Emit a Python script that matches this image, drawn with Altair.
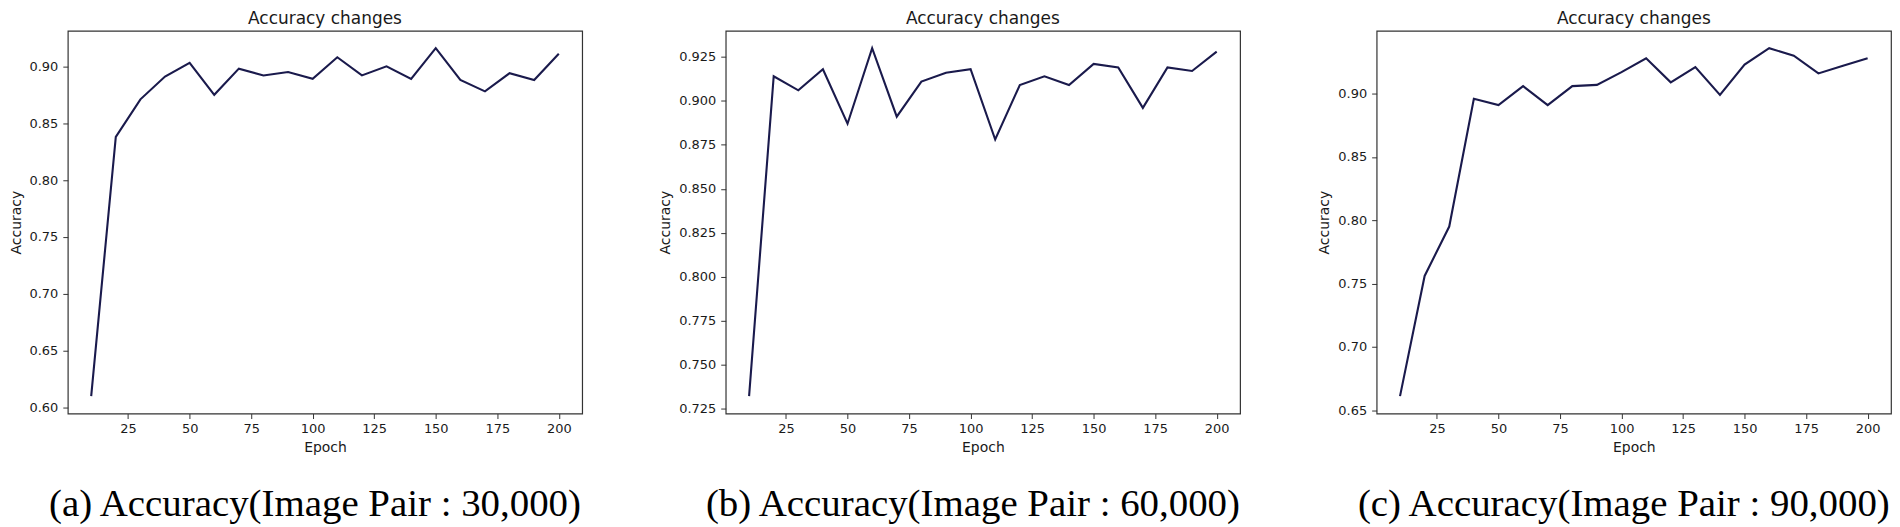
import altair as alt
import pandas as pd

# ---- data ----
epochs = [10, 20, 30, 40, 50, 60, 70, 80, 90, 100,
          110, 120, 130, 140, 150, 160, 170, 180, 190, 200]

acc_30k = [0.610, 0.838, 0.871, 0.891, 0.903, 0.875, 0.898, 0.892, 0.895, 0.889,
           0.908, 0.892, 0.900, 0.889, 0.916, 0.888, 0.878, 0.894, 0.888, 0.911]

acc_60k = [0.732, 0.914, 0.906, 0.918, 0.887, 0.930, 0.891, 0.911, 0.916, 0.918,
           0.878, 0.909, 0.914, 0.909, 0.921, 0.919, 0.896, 0.919, 0.917, 0.928]

acc_90k = [0.661, 0.756, 0.795, 0.896, 0.891, 0.906, 0.891, 0.906, 0.907, 0.917,
           0.928, 0.909, 0.921, 0.899, 0.923, 0.936, 0.930, 0.916, 0.922, 0.928]

x_ticks = [25, 50, 75, 100, 125, 150, 175, 200]
y_ticks_30k = [0.60, 0.65, 0.70, 0.75, 0.80, 0.85, 0.90]
y_ticks_60k = [0.725, 0.750, 0.775, 0.800, 0.825, 0.850, 0.875, 0.900, 0.925]
y_ticks_90k = [0.65, 0.70, 0.75, 0.80, 0.85, 0.90]

panel_title = "Accuracy changes"
captions = ["(a) Accuracy(Image Pair : 30,000)",
            "(b) Accuracy(Image Pair : 60,000)",
            "(c) Accuracy(Image Pair : 90,000)"]

PLOT_W = 516
PLOT_H = 384
LINE_COLOR = "#1a1a4c"
FRAME = "#333333"
TEXT = "#1a1a1a"


def padded(vals, frac=0.05):
    lo, hi = min(vals), max(vals)
    p = (hi - lo) * frac
    return [lo - p, hi + p]


def panel(values, yticks, yfmt, caption):
    df = pd.DataFrame({"Epoch": epochs, "Accuracy": values})
    line = alt.Chart(df).mark_line(color=LINE_COLOR, strokeWidth=2.1).encode(
        x=alt.X("Epoch:Q",
                scale=alt.Scale(domain=padded(epochs), nice=False, zero=False),
                axis=alt.Axis(values=x_ticks, format="d", title="Epoch",
                              titlePadding=5, labelPadding=4)),
        y=alt.Y("Accuracy:Q",
                scale=alt.Scale(domain=padded(values), nice=False, zero=False),
                axis=alt.Axis(values=yticks, format=yfmt, title="Accuracy",
                              titlePadding=6, labelPadding=5)),
    )
    cap = alt.Chart(pd.DataFrame({"caption": [caption]})).mark_text(
        font="Liberation Serif", fontSize=39, color="black",
        align="center", baseline="alphabetic",
    ).encode(
        text="caption:N",
        x=alt.value(PLOT_W / 2 - 10),
        y=alt.value(487),
    )
    return alt.layer(line, cap).properties(
        width=PLOT_W, height=PLOT_H,
        title=alt.TitleParams(panel_title, font="DejaVu Sans", fontSize=17,
                              fontWeight="normal", color=TEXT, offset=3,
                              anchor="middle"),
    )


chart = alt.hconcat(
    panel(acc_30k, y_ticks_30k, ".2f", captions[0]),
    panel(acc_60k, y_ticks_60k, ".3f", captions[1]),
    panel(acc_90k, y_ticks_90k, ".2f", captions[2]),
    spacing=75,
).properties(
    padding=0, background="white"
).configure_view(
    stroke=FRAME, strokeWidth=1.2
).configure_axis(
    grid=False, domain=False,
    tickSize=5, tickColor=FRAME, tickWidth=1,
    labelFont="DejaVu Sans", labelFontSize=13, labelColor=TEXT,
    titleFont="DejaVu Sans", titleFontSize=14, titleFontWeight="normal",
    titleColor=TEXT, labelFlush=False, labelOverlap=False,
)

chart.save("out.html", embed_options={"renderer": "svg", "actions": False})
